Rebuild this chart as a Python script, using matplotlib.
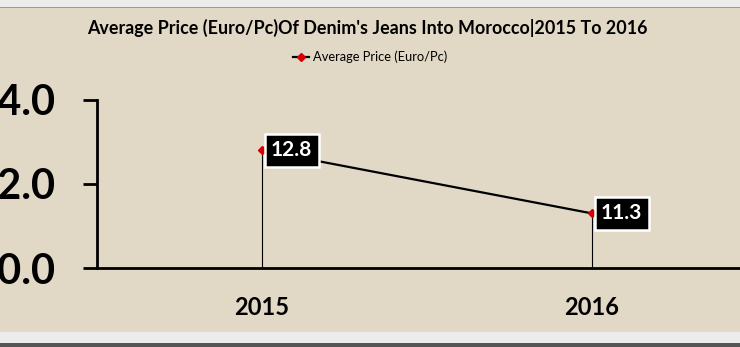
import matplotlib
matplotlib.use("Agg")
import matplotlib.pyplot as plt
from matplotlib.patches import Rectangle
from matplotlib.lines import Line2D

years = ["2015", "2016"]
prices = [12.8, 11.3]
ytick_vals = [10.0, 12.0, 14.0]
title = "Average Price (Euro/Pc)Of Denim's Jeans Into Morocco|2015 To 2016"
series_name = "Average Price (Euro/Pc)"

plt.rcParams['font.family'] = ['Lato', 'DejaVu Sans']

W, H = 740, 347
fig = plt.figure(figsize=(W / 100, H / 100), dpi=100)
fig.patch.set_facecolor("#ececec")

# beige canvas and frame lines
fig.add_artist(Rectangle((0, 15 / H), 1, (332 - 8) / H, transform=fig.transFigure,
                         facecolor="#e1d8c6", edgecolor="none", zorder=-10))
fig.add_artist(Rectangle((0, 1 - 8 / H), 1, 1.5 / H, transform=fig.transFigure,
                         facecolor="#9a9a9a", edgecolor="none", zorder=-9))
fig.add_artist(Rectangle((0, 0), 1, 4 / H, transform=fig.transFigure,
                         facecolor="#555555", edgecolor="none", zorder=-9))

ax = fig.add_axes([97 / W, 79 / H, 660 / W, 168 / H])
ax.set_facecolor("none")
x = list(range(len(years)))
ax.set_xlim(-0.5, len(years) - 0.5)
ax.set_ylim(10, 14)

ax.plot(x, prices, color="black", lw=1.6, zorder=3)
ax.plot(x, prices, ls="none", marker="D", ms=4, color="#d40000", zorder=4)
ax.vlines(x, 10, prices, color="black", lw=0.8, zorder=2)

for xi, v in zip(x, prices):
    ax.annotate(f"{v:.1f}", (xi, v), xytext=(6.5, 0), textcoords="offset points",
                ha="left", va="center", color="white", fontsize=15, fontweight="bold",
                bbox=dict(boxstyle="square,pad=0.3", fc="black", ec="white", lw=1.8),
                zorder=5)

for s in ["top", "right"]:
    ax.spines[s].set_visible(False)
for s in ["left", "bottom"]:
    ax.spines[s].set_linewidth(2)
    ax.spines[s].set_color("black")

ax.set_yticks(ytick_vals)
ax.set_yticklabels([f"{v:.1f}" for v in ytick_vals], fontsize=30, fontweight="bold")
ax.tick_params(axis="y", length=10, width=2, pad=20)
ax.set_xticks(x)
ax.set_xticklabels(years, fontsize=17, fontweight="bold")
ax.tick_params(axis="x", length=0, pad=20)

fig.text(367 / W, 1 - 28 / H, title, ha="center", va="center", fontsize=12.9,
         fontweight="bold", color="black")

# legend
h = Line2D([], [], color="black", lw=1.6, marker="D", ms=4, mfc="#d40000", mec="#d40000")
fig.legend([h], [series_name], loc="center", bbox_to_anchor=(370 / W, 1 - 57 / H),
           frameon=False, fontsize=9.3, handlelength=1.3, handletextpad=0.3)

fig.savefig("out.png", dpi=100)
